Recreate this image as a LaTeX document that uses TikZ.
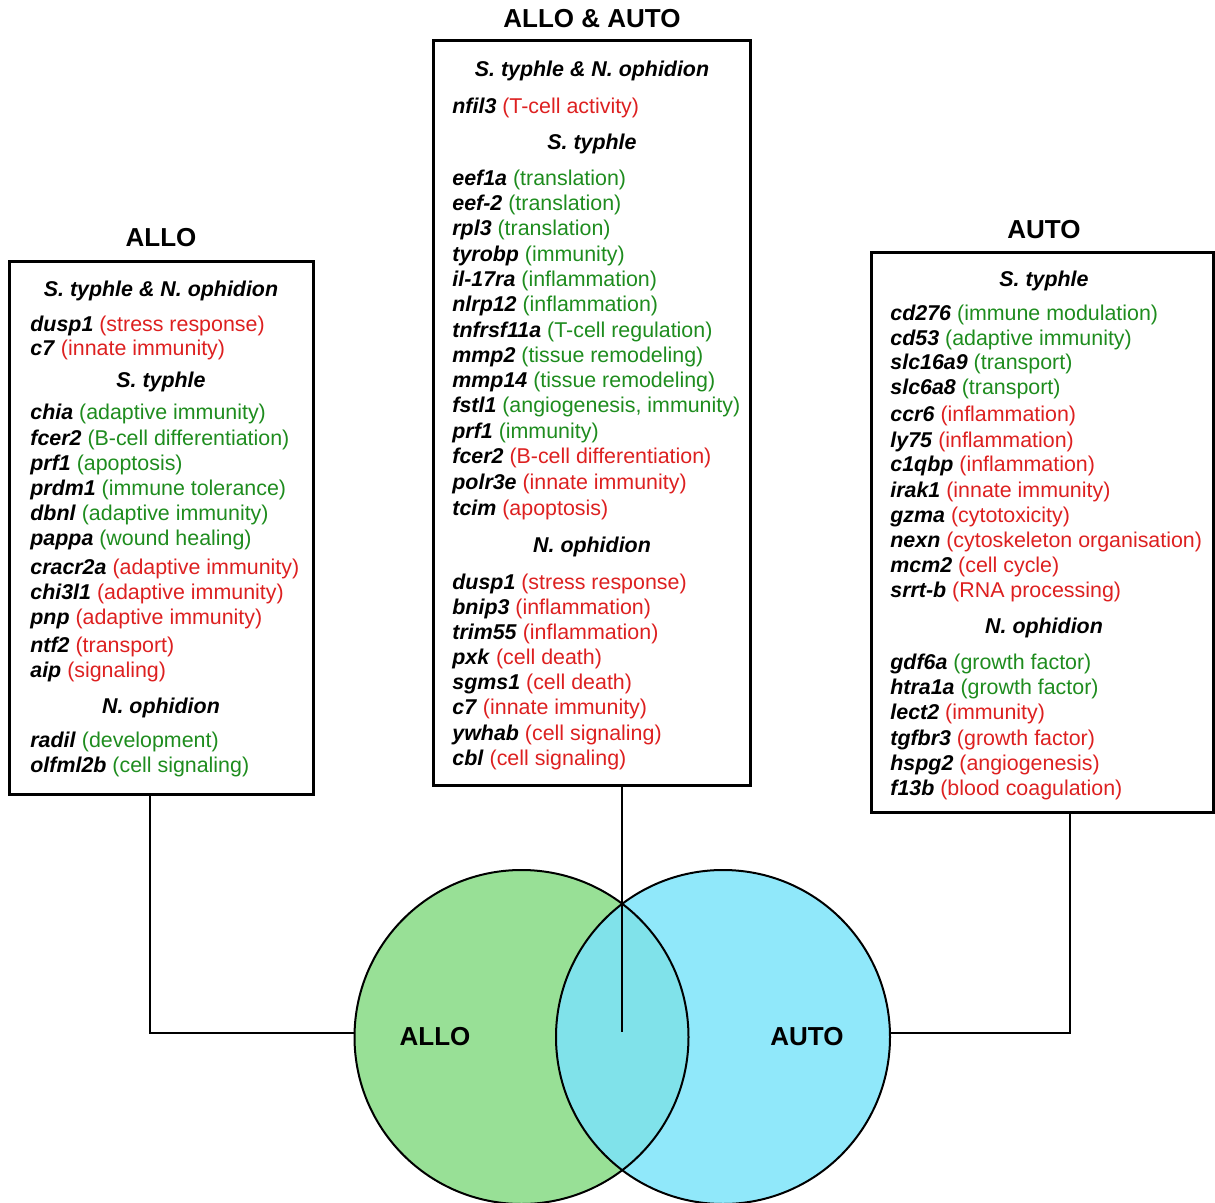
\documentclass[tikz,border=0pt]{standalone}
\usepackage{fontspec}
\setmainfont{Liberation Sans}
\definecolor{gred}{RGB}{221,32,32}
\definecolor{ggreen}{RGB}{30,140,30}
\definecolor{cgreen}{RGB}{152,224,150}
\definecolor{cblue}{RGB}{144,232,250}
\definecolor{cboth}{RGB}{128,226,234}
\newcommand\gl[6]{\node[gline] (#1) at (#2,#3) {\textbf{\textit{#4}} \textcolor{#6}{(#5)}};}
\newcommand\hd[4]{\node[ghead] (#1) at (#2,#3) {#4};}
\begin{document}
\begin{tikzpicture}[x=0.5pt,y=-0.5pt,
  gline/.style={anchor=base west, yshift=-3.5pt, inner sep=0pt, font=\fontsize{10.7}{12.5}\selectfont},
  ghead/.style={anchor=base, yshift=-3.5pt, inner sep=0pt, font=\fontsize{10.7}{12.5}\selectfont\bfseries\itshape},
  gtitle/.style={inner sep=0pt, font=\fontsize{13}{15}\selectfont\bfseries},
  gbox/.style={draw, line width=1.5pt, rectangle, inner sep=0pt},
  conn/.style={draw, line width=1.4pt},
  circ/.style={circle, minimum size=167pt, inner sep=0pt}]
\useasboundingbox (0,0) rectangle (1215,1203);
% circles
\node[circ, fill=cgreen] (lcirc) at (521.5,1037) {};
\node[circ, fill=cblue] (rcirc) at (723,1037) {};
\begin{scope}
\clip (521.5,1037) circle[radius=167];
\fill[cboth] (723,1037) circle[radius=167];
\end{scope}
\draw[line width=1pt] (521.5,1037) circle[radius=167];
\draw[line width=1pt] (723,1037) circle[radius=167];
\node[gtitle] (allol) at (435,1037) {ALLO};
\node[gtitle] (autol) at (807,1037) {AUTO};
% boxes
\node[gbox, minimum width=152pt, minimum height=266pt] (lbox) at (161,528) {};
\node[gbox, minimum width=158.5pt, minimum height=372pt] (cbox) at (591.5,413) {};
\node[gbox, minimum width=171pt, minimum height=279.5pt] (rbox) at (1042,532.5) {};
\node[gtitle] (tl) at (161,238) {ALLO};
\node[gtitle] (tc) at (592,19) {ALLO \& AUTO};
\node[gtitle] (tr) at (1044,230) {AUTO};
% connectors
\coordinate (lj) at (150,1033);
\coordinate (rj) at (1070,1033);
\coordinate (cj) at (622,1032);
\draw[conn] (lj |- lbox.south) -- (lj) -- (lj -| lcirc.west);
\draw[conn] (rj |- rbox.south) -- (rj) -- (rj -| rcirc.east);
\draw[conn] (cj |- cbox.south) -- (cj);
% left box
\hd{lh1}{161}{290}{S. typhle \& N. ophidion}
\gl{l1}{30}{325}{dusp1}{stress response}{gred}
\gl{l2}{30}{349}{c7}{innate immunity}{gred}
\hd{lh2}{161}{381}{S. typhle}
\gl{l3}{30}{413}{chia}{adaptive immunity}{ggreen}
\gl{l4}{30}{438}{fcer2}{B-cell differentiation}{ggreen}
\gl{l5}{30}{463}{prf1}{apoptosis}{ggreen}
\gl{l6}{30}{488}{prdm1}{immune tolerance}{ggreen}
\gl{l7}{30}{513}{dbnl}{adaptive immunity}{ggreen}
\gl{l8}{30}{538}{pappa}{wound healing}{ggreen}
\gl{l9}{30}{567}{cracr2a}{adaptive immunity}{gred}
\gl{l10}{30}{592}{chi3l1}{adaptive immunity}{gred}
\gl{l11}{30}{617}{pnp}{adaptive immunity}{gred}
\gl{l12}{30}{645}{ntf2}{transport}{gred}
\gl{l13}{30}{670}{aip}{signaling}{gred}
\hd{lh3}{161}{706}{N. ophidion}
\gl{l14}{30}{740}{radil}{development}{ggreen}
\gl{l15}{30}{765}{olfml2b}{cell signaling}{ggreen}
% center box
\hd{ch1}{592}{70}{S. typhle \& N. ophidion}
\gl{c1}{452}{107}{nfil3}{T-cell activity}{gred}
\hd{ch2}{592}{143}{S. typhle}
\gl{c2}{452}{179}{eef1a}{translation}{ggreen}
\gl{c3}{452}{204}{eef-2}{translation}{ggreen}
\gl{c4}{452}{229}{rpl3}{translation}{ggreen}
\gl{c5}{452}{255}{tyrobp}{immunity}{ggreen}
\gl{c6}{452}{280}{il-17ra}{inflammation}{ggreen}
\gl{c7}{452}{305}{nlrp12}{inflammation}{ggreen}
\gl{c8}{452}{331}{tnfrsf11a}{T-cell regulation}{ggreen}
\gl{c9}{452}{356}{mmp2}{tissue remodeling}{ggreen}
\gl{c10}{452}{381}{mmp14}{tissue remodeling}{ggreen}
\gl{c11}{452}{406}{fstl1}{angiogenesis, immunity}{ggreen}
\gl{c12}{452}{431}{prf1}{immunity}{ggreen}
\gl{c13}{452}{457}{fcer2}{B-cell differentiation}{gred}
\gl{c14}{452}{482}{polr3e}{innate immunity}{gred}
\gl{c15}{452}{508}{tcim}{apoptosis}{gred}
\hd{ch3}{592}{545}{N. ophidion}
\gl{c16}{452}{582}{dusp1}{stress response}{gred}
\gl{c17}{452}{607}{bnip3}{inflammation}{gred}
\gl{c18}{452}{632}{trim55}{inflammation}{gred}
\gl{c19}{452}{657}{pxk}{cell death}{gred}
\gl{c20}{452}{682}{sgms1}{cell death}{gred}
\gl{c21}{452}{707}{c7}{innate immunity}{gred}
\gl{c22}{452}{733}{ywhab}{cell signaling}{gred}
\gl{c23}{452}{758}{cbl}{cell signaling}{gred}
% right box
\hd{rh1}{1044}{280}{S. typhle}
\gl{r1}{890}{314}{cd276}{immune modulation}{ggreen}
\gl{r2}{890}{339}{cd53}{adaptive immunity}{ggreen}
\gl{r3}{890}{363}{slc16a9}{transport}{ggreen}
\gl{r4}{890}{388}{slc6a8}{transport}{ggreen}
\gl{r5}{890}{415}{ccr6}{inflammation}{gred}
\gl{r6}{890}{440}{ly75}{inflammation}{gred}
\gl{r7}{890}{465}{c1qbp}{inflammation}{gred}
\gl{r8}{890}{490}{irak1}{innate immunity}{gred}
\gl{r9}{890}{515}{gzma}{cytotoxicity}{gred}
\gl{r10}{890}{540}{nexn}{cytoskeleton organisation}{gred}
\gl{r11}{890}{565}{mcm2}{cell cycle}{gred}
\gl{r12}{890}{590}{srrt-b}{RNA processing}{gred}
\hd{rh2}{1044}{626}{N. ophidion}
\gl{r13}{890}{662}{gdf6a}{growth factor}{ggreen}
\gl{r14}{890}{687}{htra1a}{growth factor}{ggreen}
\gl{r15}{890}{712}{lect2}{immunity}{gred}
\gl{r16}{890}{738}{tgfbr3}{growth factor}{gred}
\gl{r17}{890}{763}{hspg2}{angiogenesis}{gred}
\gl{r18}{890}{788}{f13b}{blood coagulation}{gred}
\end{tikzpicture}
\end{document}
